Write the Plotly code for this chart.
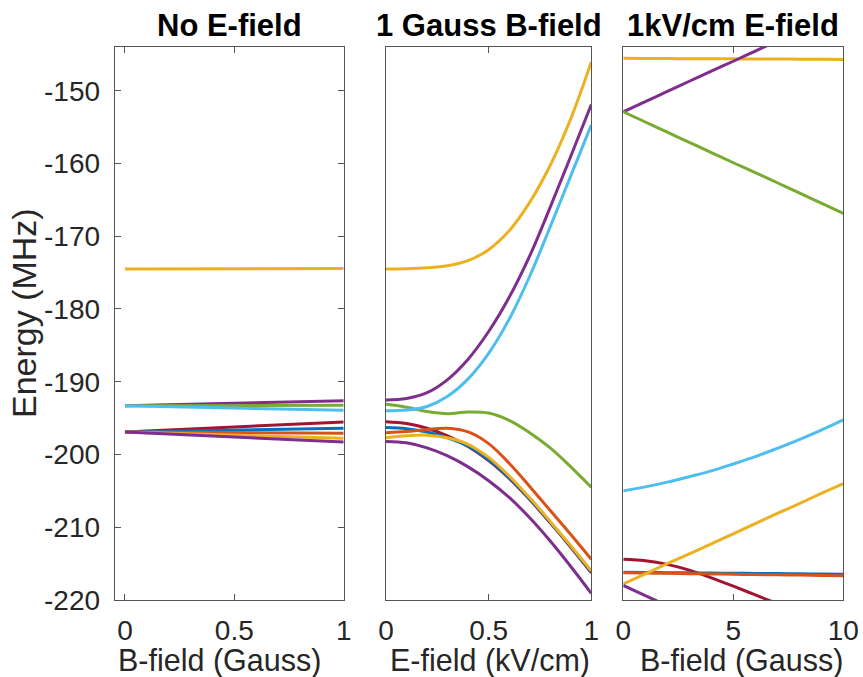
import plotly.graph_objects as go

# ---------------- data ----------------
colors = {
    "blue": "#0072BD", "orange": "#D95319", "yellow": "#EDB120",
    "purple": "#7E2F8E", "green": "#77AC30", "lightblue": "#4DBEEE",
    "red": "#A2142F",
}
state_colors = ["yellow", "purple", "green", "lightblue", "red",
                "blue", "orange", "yellow", "purple"]

# Panel 1: No E-field, energy vs B-field (Gauss)
b_field_1 = [0, 1]
p1_yellow = [-174.5, -174.45]
p1_purple = [-193.3, -192.6]
p1_green = [-193.3, -193.24]
p1_lightblue = [-193.3, -193.93]
p1_red = [-196.9, -195.53]
p1_blue = [-196.9, -196.4]
p1_orange = [-196.9, -197.08]
p1_yellow2 = [-196.9, -197.77]
p1_purple2 = [-196.9, -198.3]

# Panel 2: 1 Gauss B-field, energy vs E-field (kV/cm)
e_field_2 = [0, 0.1, 0.2, 0.3, 0.4, 0.5, 0.6, 0.7, 0.8, 0.9, 1.0]
p2_yellow = [-174.5, -174.48, -174.35, -174.05, -173.35, -171.85, -169.25, -165.35, -160.25, -153.85, -146.05]
p2_purple = [-192.5, -192.3, -191.5, -189.7, -186.9, -183.1, -178.4, -172.7, -166.0, -159.0, -151.9]
p2_green = [-193.1, -193.5, -194.1, -194.4, -194.15, -194.3, -195.3, -197.0, -199.1, -201.7, -204.5]
p2_lightblue = [-194.0, -193.9, -193.4, -192.0, -189.6, -186.1, -181.4, -175.5, -168.7, -161.7, -154.7]
p2_red = [-195.5, -195.75, -196.4, -197.45, -198.9, -200.85, -203.3, -206.2, -209.4, -212.75, -216.25]
p2_blue = [-196.3, -196.45, -196.9, -197.7, -198.85, -200.7, -203.2, -206.1, -209.3, -212.65, -216.15]
p2_orange = [-197.0, -196.85, -196.55, -196.4, -196.9, -198.5, -201.2, -204.4, -207.7, -211.0, -214.4]
p2_yellow2 = [-197.7, -197.42, -197.35, -197.7, -198.6, -200.4, -202.95, -205.95, -209.2, -212.55, -216.0]
p2_purple2 = [-198.2, -198.4, -199.1, -200.2, -201.7, -203.6, -205.9, -208.7, -211.9, -215.4, -219.1]

# Panel 3: 1 kV/cm E-field, energy vs B-field (Gauss)
b_field_3 = [0, 1, 2, 3, 4, 5, 6, 7, 8, 9, 10]
p3_yellow = [-145.55, -145.57, -145.58, -145.6, -145.61, -145.62, -145.64, -145.65, -145.66, -145.68, -145.7]
p3_purple = [-152.9, -151.5, -150.1, -148.7, -147.3, -145.95, -144.55, -143.15, -141.8, -140.4, -139.0]
p3_green = [-152.9, -154.3, -155.7, -157.1, -158.5, -159.9, -161.25, -162.65, -164.05, -165.45, -166.85]
p3_lightblue = [-205.0, -204.45, -203.8, -203.05, -202.25, -201.3, -200.3, -199.15, -197.95, -196.65, -195.25]
p3_red = [-214.4, -214.6, -215.1, -215.9, -216.95, -218.1, -219.3, -220.5, -221.7, -222.9, -224.1]
p3_blue = [-216.2, -216.22, -216.25, -216.27, -216.3, -216.32, -216.35, -216.37, -216.4, -216.42, -216.45]
p3_orange = [-216.25, -216.3, -216.34, -216.38, -216.42, -216.46, -216.5, -216.54, -216.58, -216.62, -216.66]
p3_yellow2 = [-217.8, -216.4, -215.0, -213.65, -212.3, -210.9, -209.5, -208.1, -206.75, -205.35, -204.0]
p3_purple2 = [-218.0, -219.4, -220.8, -222.2, -223.6, -224.95, -226.35, -227.75, -229.1, -230.5, -231.9]

panel_titles = ["No E-field", "1 Gauss B-field", "1kV/cm E-field"]
x_titles = ["B-field (Gauss)", "E-field (kV/cm)", "B-field (Gauss)"]
y_title = "Energy (MHz)"
y_tickvals = [-220, -210, -200, -190, -180, -170, -160, -150]
x_tickvals = [[0, 0.5, 1], [0, 0.5, 1], [0, 5, 10]]
x_ticktext = [["0", "0.5", "1"], ["0", "0.5", "1"], ["0", "5", "10"]]

panels = [
    (b_field_1, [p1_yellow, p1_purple, p1_green, p1_lightblue, p1_red,
                 p1_blue, p1_orange, p1_yellow2, p1_purple2]),
    (e_field_2, [p2_yellow, p2_purple, p2_green, p2_lightblue, p2_red,
                 p2_blue, p2_orange, p2_yellow2, p2_purple2]),
    (b_field_3, [p3_yellow, p3_purple, p3_green, p3_lightblue, p3_red,
                 p3_blue, p3_orange, p3_yellow2, p3_purple2]),
]

# ---------------- layout geometry ----------------
W, H = 863, 677
def px_x(p): return p / W
def px_y(p): return (H - p) / H

x_domains = [[px_x(114.7), px_x(343.7)], [px_x(386), px_x(591.3)], [px_x(623.3), px_x(843.3)]]
y_domain = [px_y(600), px_y(46.7)]
x_ranges = [[-0.047, 1], [0, 1], [0, 10]]
y_range = [-220, -143.95]

FONT = "Liberation Sans, Arial, sans-serif"
AX_COLOR = "#555555"
TXT_COLOR = "#262626"

fig = go.Figure()
for i, (xs, series) in enumerate(panels):
    xa = "x" if i == 0 else f"x{i+1}"
    ya = "y" if i == 0 else f"y{i+1}"
    for name, ys in zip(state_colors, series):
        fig.add_trace(go.Scatter(
            x=xs, y=ys, mode="lines", xaxis=xa, yaxis=ya,
            line=dict(color=colors[name], width=3, shape="spline", smoothing=1.0),
            showlegend=False, hoverinfo="skip",
        ))

layout = dict(
    width=W, height=H, margin=dict(l=0, r=0, t=0, b=0),
    paper_bgcolor="white", plot_bgcolor="white",
    font=dict(family=FONT, color=TXT_COLOR),
    showlegend=False,
)
for i in range(3):
    xk = "xaxis" if i == 0 else f"xaxis{i+1}"
    yk = "yaxis" if i == 0 else f"yaxis{i+1}"
    layout[xk] = dict(
        domain=x_domains[i], range=x_ranges[i], anchor="y" if i == 0 else f"y{i+1}",
        showgrid=False, zeroline=False, showline=True, linecolor=AX_COLOR, linewidth=1,
        mirror="ticks", ticks="inside", ticklen=6, tickcolor=AX_COLOR, tickwidth=1,
        tickvals=x_tickvals[i], ticktext=x_ticktext[i],
        tickfont=dict(size=28, family=FONT, color=TXT_COLOR),
        ticklabelstandoff=5, automargin=False,
    )
    ydict = dict(
        domain=y_domain, range=y_range, anchor="x" if i == 0 else f"x{i+1}",
        showgrid=False, zeroline=False, showline=True, linecolor=AX_COLOR, linewidth=1,
        automargin=False,
    )
    if i == 0:
        ydict.update(mirror="ticks", ticks="inside", ticklen=6, tickcolor=AX_COLOR,
                     tickwidth=1, tickvals=y_tickvals,
                     ticktext=[str(v) for v in y_tickvals],
                     tickfont=dict(size=28, family=FONT, color=TXT_COLOR),
                     ticklabelstandoff=8)
    else:
        ydict.update(mirror=True, ticks="", showticklabels=False)
    layout[yk] = ydict

annotations = []
title_centers = [229.2, 488.7, 733.3]
xlabel_centers = [219, 490, 741]
for i in range(3):
    annotations.append(dict(
        text=f"<b>{panel_titles[i]}</b>", x=px_x(title_centers[i]), y=px_y(25),
        xref="paper", yref="paper", xanchor="center", yanchor="middle",
        showarrow=False, font=dict(size=31, family=FONT, color="black"),
    ))
    annotations.append(dict(
        text=x_titles[i], x=px_x(xlabel_centers[i]), y=px_y(660),
        xref="paper", yref="paper", xanchor="center", yanchor="middle",
        showarrow=False, font=dict(size=30.5, family=FONT, color=TXT_COLOR),
    ))
annotations.append(dict(
    text=y_title, x=px_x(24), y=px_y(313), textangle=-90,
    xref="paper", yref="paper", xanchor="center", yanchor="middle",
    showarrow=False, font=dict(size=34, family=FONT, color=TXT_COLOR),
))
layout["annotations"] = annotations

fig.update_layout(**layout)
fig.write_html("out.html")
